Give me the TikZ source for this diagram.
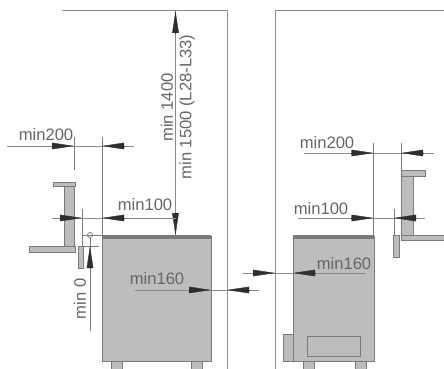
\documentclass[tikz,border=0pt]{standalone}
\usepackage{fontspec}
\setmainfont{Liberation Sans}
\usetikzlibrary{arrows.meta}
\definecolor{wallc}{HTML}{8F8F8F}
\definecolor{fillc}{HTML}{BDBDBD}
\definecolor{edgec}{HTML}{7A7A7A}
\definecolor{textc}{HTML}{666666}
\definecolor{dimc}{HTML}{8A8A8A}
\tikzset{
  wall/.style={draw=wallc,line width=1pt},
  thin line/.style={draw=dimc,line width=0.7pt},
  tick line/.style={draw=edgec,line width=0.7pt},
  part/.style={draw=edgec,fill=fillc,line width=0.8pt},
  band/.style={fill=edgec,draw=none},
  lab/.style={font=\fontsize{16.6}{18}\selectfont,text=textc,inner sep=0pt},
  dot/.style={circle,draw=edgec,line width=0.7pt,minimum size=5pt,inner sep=0pt}
}
\newcommand{\arw}[2]{\draw[-{Triangle[length=22pt,width=6.5pt,fill=black!82]},draw=black!82,line width=0.4pt] (#1) -- (#2);}
\begin{document}
\begin{tikzpicture}[x=1pt,y=-1pt]
\useasboundingbox[fill=white] (0,0) rectangle (444,369);
% walls
\draw[wall] (62,11) -- (227.5,11) -- (227.5,369);
\draw[wall] (444,11) -- (275,11) -- (275,369);
% left heater
\draw[part] (111,361) rectangle (122,369);
\draw[part] (191,361) rectangle (202,369);
\draw[part] (102,236) rectangle (211,361);
\fill[band] (102,235) rectangle (211,238.5);
% right heater
\draw[part] (303,361) rectangle (314,369);
\draw[part] (355,361) rectangle (366,369);
\draw[part] (283,334) rectangle (293,361);
\draw[part] (293,236) rectangle (374,361);
\fill[band] (293,235) rectangle (374,238.5);
\draw[tick line] (307,336) rectangle (360,356);
% left bracket
\draw[part] (53,182) rectangle (75,186);
\draw[part] (64,186) rectangle (74,246);
\draw[part] (29,246) rectangle (75,252);
\draw[part] (78,246) rectangle (83,268);
% right bracket
\draw[part] (401,170) rectangle (425,176);
\draw[part] (401,176) rectangle (413,235);
\draw[part] (401,235) rectangle (444,240);
\draw[part] (393,235) rectangle (399,257);
% vertical dimension
\draw[thin line] (175.5,11) -- (175.5,235);
\arw{175.5,33}{175.5,11}
\arw{175.5,213}{175.5,235}
\node[lab,rotate=90] (t1400) at (167,107.5) {min 1400};
\node[lab,rotate=90] (t1500) at (187,107) {min 1500 (L28-L33)};
% left min200
\draw[thin line] (7,146) -- (134,146);
\draw[tick line] (74,137) -- (74,170);
\draw[tick line] (102,137) -- (102,236);
\arw{52,146}{74,146}
\arw{124,146}{102,146}
\node[lab] (ta) at (46,135) {min200};
% left min100
\draw[thin line] (52,218) -- (175.5,218);
\draw[tick line] (82,209) -- (82,246);
\draw[tick line] (82,235) -- (102,235);
\draw[tick line] (78,246) -- (99,246);
\arw{61,218}{82,218}
\arw{124,218}{102,218}
\node[lab] (tb) at (145,205) {min100};
% min 0
\node[dot] (c) at (90,235) {};
\coordinate (e) at (90,331);
\draw[tick line] (c) -- (e);
\arw{90,268}{90,246}
\node[lab,rotate=90] (tc) at (80,299) {min 0};
% min160 left heater
\draw[thin line] (135,290) -- (259,290);
\arw{189,290}{211,290}
\arw{249,290}{227,290}
\node[lab] (td) at (157,279) {min160};
% right min200
\draw[thin line] (304,153) -- (434,153);
\draw[tick line] (373.5,143) -- (373.5,235);
\draw[tick line] (401,143) -- (401,170);
\arw{351,153}{373.5,153}
\arw{424,153}{401,153}
\node[lab] (te) at (327,143) {min200};
% right min100
\draw[thin line] (298,218) -- (425,218);
\draw[tick line] (394,209) -- (394,235);
\arw{351,218}{373.5,218}
\arw{415,218}{394,218}
\node[lab] (tf) at (321,209) {min100};
% min160 right heater
\draw[thin line] (243,273) -- (365,273);
\arw{254,273}{275,273}
\arw{315,273}{293,273}
\node[lab] (tg) at (344,264) {min160};
\end{tikzpicture}
\end{document}
